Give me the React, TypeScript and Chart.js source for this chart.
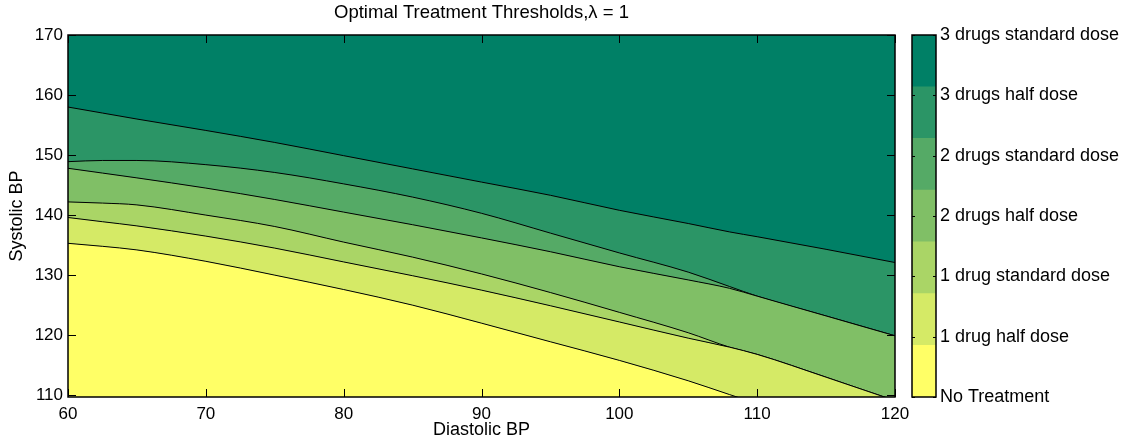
import { useEffect, useRef } from "react";
import { Chart, registerables } from "chart.js";

Chart.register(...registerables);

// ---- data ----
const diastolic = [60, 62.5, 65, 70, 75, 80, 85, 90, 95, 100, 105, 108, 110, 115, 120];

// systolic thresholds (boundary curves), bottom to top
const edgeNoTreatTo1Half = [135.3, 134.8, 134.2, 132.3, 130.0, 127.6, 125.0, 122.0, 118.9, 115.8, 112.4, 110.1, 108.6, 104.5, 100.5];
const edge1HalfTo1Std = [139.6, 138.9, 138.2, 136.5, 134.5, 132.2, 129.9, 127.5, 124.9, 122.2, 119.5, 118.0, 116.8, 113.0, 109.1];
const edge1StdTo2Half = [142.2, 142.0, 141.7, 140.0, 138.1, 135.5, 133.0, 130.2, 127.1, 123.8, 120.4, 118.0, 116.8, 113.0, 109.1];
const edge2HalfTo2Std = [147.8, 147.0, 146.2, 144.5, 142.6, 140.5, 138.4, 136.2, 133.9, 131.4, 129.2, 127.8, 126.5, 123.2, 119.9];
const edge2StdTo3Half = [148.9, 149.1, 149.1, 148.4, 147.1, 145.2, 143.0, 140.3, 137.0, 133.7, 130.5, 128.1, 126.5, 123.2, 119.9];
const edge3HalfTo3Std = [158.0, 157.0, 156.0, 154.1, 152.1, 149.9, 147.7, 145.5, 143.3, 140.8, 138.6, 137.2, 136.4, 134.3, 132.1];

const levelNames = [
  "No Treatment",
  "1 drug half dose",
  "1 drug standard dose",
  "2 drugs half dose",
  "2 drugs standard dose",
  "3 drugs half dose",
  "3 drugs standard dose",
];
const levelColors = [
  "rgb(255,255,102)",
  "rgb(213,234,102)",
  "rgb(170,213,102)",
  "rgb(128,191,102)",
  "rgb(85,170,102)",
  "rgb(43,149,102)",
  "rgb(0,128,102)",
];
const xTicks = [60, 70, 80, 90, 100, 110, 120];
const yTicks = [110, 120, 130, 140, 150, 160, 170];
const xRange = [60, 120];
const yRange = [109.7, 170];
const titleText = "Optimal Treatment Thresholds,\u03bb = 1";
const xTitle = "Diastolic BP";
const yTitle = "Systolic BP";

const FONT = "'Liberation Sans', Arial, Helvetica, sans-serif";

const frame = {
  id: "frame",
  beforeDraw(chart: any) {
    const { ctx, chartArea: a } = chart;
    ctx.save();
    ctx.fillStyle = levelColors[6];
    ctx.fillRect(a.left, a.top, a.right - a.left, a.bottom - a.top);
    ctx.restore();
  },
  afterDatasetsDraw(chart: any) {
    const { ctx, chartArea: a, scales } = chart;
    const tl = 8;
    ctx.save();
    ctx.strokeStyle = "#000";
    ctx.lineWidth = 1;
    ctx.beginPath();
    scales.x.ticks.forEach((t: any) => {
      const px = Math.round(scales.x.getPixelForValue(t.value)) + 0.5;
      ctx.moveTo(px, a.bottom);
      ctx.lineTo(px, a.bottom - tl);
      ctx.moveTo(px, a.top);
      ctx.lineTo(px, a.top + tl);
    });
    scales.y.ticks.forEach((t: any) => {
      const py = Math.round(scales.y.getPixelForValue(t.value)) + 0.5;
      ctx.moveTo(a.left, py);
      ctx.lineTo(a.left + tl, py);
      ctx.moveTo(a.right, py);
      ctx.lineTo(a.right - tl, py);
    });
    ctx.stroke();
    ctx.lineWidth = 1.5;
    ctx.strokeRect(a.left, a.top, a.right - a.left, a.bottom - a.top);
    ctx.restore();
  },
};

const barFrame = {
  id: "barFrame",
  afterDatasetsDraw(chart: any) {
    const { ctx, chartArea: a, scales } = chart;
    const tl = 3;
    ctx.save();
    ctx.strokeStyle = "#000";
    ctx.lineWidth = 1;
    ctx.beginPath();
    scales.y.ticks.forEach((t: any) => {
      const py = Math.round(scales.y.getPixelForValue(t.value)) + 0.5;
      ctx.moveTo(a.left, py);
      ctx.lineTo(a.left + tl, py);
      ctx.moveTo(a.right, py);
      ctx.lineTo(a.right - tl, py);
    });
    ctx.stroke();
    ctx.lineWidth = 1.5;
    ctx.strokeRect(a.left, a.top, a.right - a.left, a.bottom - a.top);
    ctx.restore();
  },
};

const edges = [
  edgeNoTreatTo1Half,
  edge1HalfTo1Std,
  edge1StdTo2Half,
  edge2HalfTo2Std,
  edge2StdTo3Half,
  edge3HalfTo3Std,
];

export default function App() {
  const mainRef = useRef<HTMLCanvasElement | null>(null);
  const barRef = useRef<HTMLCanvasElement | null>(null);

  useEffect(() => {
    Chart.defaults.font.family = FONT;
    Chart.defaults.color = "#000";

    const datasets = edges.map((vals, i) => ({
      label: levelNames[i] + " / " + levelNames[i + 1],
      data: diastolic.map((x, k) => ({ x, y: vals[k] })),
      borderColor: "#000",
      borderWidth: 1,
      pointRadius: 0,
      cubicInterpolationMode: "monotone" as const,
      backgroundColor: levelColors[i],
      fill: i === 0 ? "start" : "-1",
    }));

    const main = new Chart(mainRef.current!, {
      type: "line",
      data: { datasets },
      plugins: [frame],
      options: {
        animation: false,
        responsive: true,
        maintainAspectRatio: false,
        layout: { padding: { left: 0, right: 25, top: 0, bottom: 0 } },
        plugins: {
          legend: { display: false },
          tooltip: { enabled: false },
          title: {
            display: true,
            text: titleText,
            fullSize: false,
            font: { size: 18.5, weight: "normal", lineHeight: 1.2 },
            padding: { top: 2, bottom: 10.8 },
          },
        },
        scales: {
          x: {
            type: "linear",
            min: xRange[0],
            max: xRange[1],
            grid: { display: false, drawTicks: false },
            border: { display: false },
            ticks: { font: { size: 17 }, padding: 7, callback: (v: any) => String(v) },
            title: { display: true, text: xTitle, font: { size: 18 }, padding: { top: 0, bottom: 2.5 } },
            afterBuildTicks: (s: any) => {
              s.ticks = xTicks.map((v) => ({ value: v }));
            },
            afterFit: (s: any) => {
              s.height = 46;
              s.paddingLeft = 0;
              s.paddingRight = 0;
            },
          },
          y: {
            type: "linear",
            min: yRange[0],
            max: yRange[1],
            grid: { display: false, drawTicks: false },
            border: { display: false },
            ticks: { font: { size: 17 }, padding: 5, callback: (v: any) => String(v) },
            title: { display: true, text: yTitle, font: { size: 18 }, padding: { top: 6.7, bottom: 0 } },
            afterBuildTicks: (s: any) => {
              s.ticks = yTicks.map((v) => ({ value: v }));
            },
            afterFit: (s: any) => {
              s.width = 68;
              s.paddingTop = 0;
              s.paddingBottom = 0;
            },
          },
        },
      },
    });

    const bar = new Chart(barRef.current!, {
      type: "bar",
      data: {
        labels: [""],
        datasets: levelNames.map((name, i) => ({
          label: name,
          data: [1],
          backgroundColor: levelColors[i],
          borderWidth: 0,
          barPercentage: 1,
          categoryPercentage: 1,
        })),
      },
      plugins: [barFrame],
      options: {
        animation: false,
        responsive: true,
        maintainAspectRatio: false,
        layout: { padding: { left: 7, right: 0, top: 35, bottom: 46 } },
        plugins: { legend: { display: false }, tooltip: { enabled: false }, title: { display: false } },
        scales: {
          x: { stacked: true, display: false },
          y: {
            stacked: true,
            position: "right",
            min: 0,
            max: levelNames.length,
            grid: { display: false, drawTicks: false },
            border: { display: false },
            ticks: {
              font: { size: 18 },
              padding: 4,
              callback: (_v: any, i: number) => levelNames[i],
            },
            afterBuildTicks: (s: any) => {
              const n = levelNames.length - 1;
              s.ticks = levelNames.map((_, i) => ({ value: (i * levelNames.length) / n }));
            },
            afterFit: (s: any) => {
              s.width = 201;
              s.paddingTop = 0;
              s.paddingBottom = 0;
            },
          },
        },
      },
    });

    return () => {
      main.destroy();
      bar.destroy();
    };
  }, []);

  return (
    <div style={{ position: "absolute", left: 0, top: 0, width: 1137, height: 443, overflow: "hidden", background: "#fff" }}>
      <div style={{ position: "absolute", left: 0, top: 0, width: 920, height: 443 }}>
        <canvas ref={mainRef} />
      </div>
      <div style={{ position: "absolute", left: 905, top: 0, width: 232, height: 443 }}>
        <canvas ref={barRef} />
      </div>
    </div>
  );
}
